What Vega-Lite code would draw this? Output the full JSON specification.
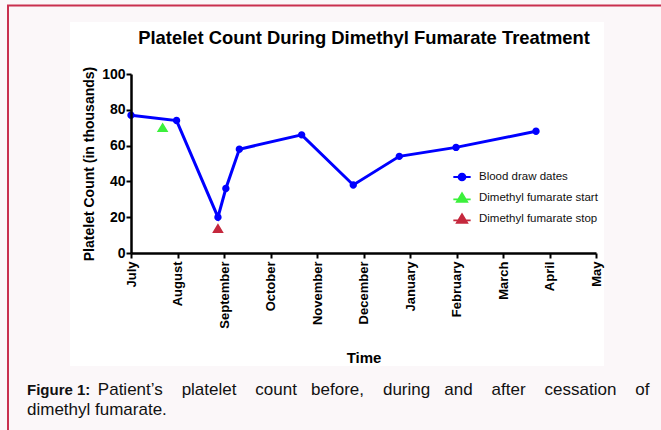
{
  "$schema": "https://vega.github.io/schema/vega-lite/v6.json",
  "width": 465,
  "height": 179,
  "autosize": {"type": "none"},
  "padding": {"left": 131, "top": 74, "right": 65, "bottom": 177},
  "background": "#fbf7f9",
  "title": {
    "text": "Figure 1:",
    "subtitle": [
      "\u200b\u00a0\u00a0\u00a0\u00a0\u00a0\u00a0\u00a0\u00a0\u00a0\u00a0\u00a0\u00a0\u00a0\u00a0\u00a0Patient’s\u00a0\u00a0\u00a0\u00a0platelet\u00a0\u00a0\u00a0\u00a0count\u00a0\u00a0\u00a0before,\u00a0\u00a0\u00a0\u00a0during\u00a0\u00a0\u00a0and\u00a0\u00a0\u00a0\u00a0after\u00a0\u00a0\u00a0\u00a0cessation\u00a0\u00a0\u00a0\u00a0of",
      "dimethyl fumarate."
    ],
    "orient": "bottom",
    "anchor": "start",
    "frame": "group",
    "offset": -38,
    "dx": -104,
    "baseline": "alphabetic",
    "font": "Liberation Sans",
    "fontSize": 15,
    "fontWeight": "bold",
    "color": "#111111",
    "subtitleFont": "Liberation Sans",
    "subtitleFontSize": 17,
    "subtitleFontWeight": "normal",
    "subtitleColor": "#111111",
    "subtitlePadding": -15,
    "subtitleLineHeight": 20
  },
  "datasets": {
    "draws": [
      {"month": 0.0, "count": 77, "series": "Blood draw dates"},
      {"month": 0.98, "count": 74, "series": "Blood draw dates"},
      {"month": 1.87, "count": 20, "series": "Blood draw dates"},
      {"month": 2.04, "count": 36, "series": "Blood draw dates"},
      {"month": 2.33, "count": 58, "series": "Blood draw dates"},
      {"month": 3.67, "count": 66, "series": "Blood draw dates"},
      {"month": 4.78, "count": 38, "series": "Blood draw dates"},
      {"month": 5.77, "count": 54, "series": "Blood draw dates"},
      {"month": 6.99, "count": 59, "series": "Blood draw dates"},
      {"month": 8.71, "count": 68, "series": "Blood draw dates"}
    ],
    "events": [
      {"month": 0.68, "count": 70, "series": "Dimethyl fumarate start"},
      {"month": 1.87, "count": 13.6, "series": "Dimethyl fumarate stop"}
    ]
  },
  "layer": [
    {
      "data": {"values": [{}]},
      "mark": {"type": "rect", "fill": "#ffffff"},
      "encoding": {
        "x": {"datum": -1.312, "type": "quantitative", "scale": {"domain": [0, 10]}, "axis": null},
        "x2": {"datum": 10.17},
        "y": {"datum": 129.05, "type": "quantitative", "scale": {"domain": [0, 100]}, "axis": null},
        "y2": {"datum": -63.1}
      }
    },
    {
      "data": {"values": [{}]},
      "mark": {"type": "rect", "fill": "transparent", "stroke": "#c9304f", "strokeWidth": 2},
      "encoding": {
        "x": {
          "datum": -2.645, "type": "quantitative", "scale": {"domain": [0, 10]},
          "axis": {
            "orient": "top", "domain": false, "ticks": false, "labels": false, "grid": false, "zindex": 2,
            "title": "Platelet Count During Dimethyl Fumarate Treatment",
            "titleFont": "Liberation Sans", "titleFontSize": 18.4, "titleFontWeight": "bold",
            "titleColor": "#000000", "titleY": -31, "titleBaseline": "alphabetic"
          }
        },
        "x2": {"datum": 14},
        "y": {"datum": 138.27, "type": "quantitative", "scale": {"domain": [0, 100]}, "axis": null},
        "y2": {"datum": -100}
      }
    },
    {
      "data": {"name": "draws"},
      "mark": {"type": "line", "color": "#0000ff", "strokeWidth": 3},
      "encoding": {
        "x": {
          "field": "month", "type": "quantitative", "scale": {"domain": [0, 10], "nice": false},
          "axis": {
            "orient": "bottom", "values": [0, 1, 2, 3, 4, 5, 6, 7, 8, 9, 10], "zindex": 2,
            "labelExpr": "['July','August','September','October','November','December','January','February','March','April','May'][datum.value]",
            "labelAngle": -90, "labelFlush": false, "labelOverlap": false,
            "labelFont": "Liberation Sans", "labelFontWeight": "bold", "labelFontSize": 13, "labelColor": "#000000", "labelPadding": 3,
            "tickSize": 5, "tickWidth": 2, "tickColor": "#000000",
            "domainColor": "#000000", "domainWidth": 2.5, "grid": false,
            "title": "Time", "titleFont": "Liberation Sans", "titleFontSize": 15, "titleFontWeight": "bold", "titleColor": "#000000",
            "titleY": 109, "titleBaseline": "alphabetic"
          }
        },
        "y": {
          "field": "count", "type": "quantitative", "scale": {"domain": [0, 100], "nice": false},
          "axis": {
            "orient": "left", "values": [0, 20, 40, 60, 80, 100], "labelFlush": false, "zindex": 2,
            "labelFont": "Liberation Sans", "labelFontWeight": "bold", "labelFontSize": 14, "labelColor": "#000000", "labelPadding": 1,
            "tickSize": 5, "tickWidth": 2, "tickColor": "#000000",
            "domainColor": "#000000", "domainWidth": 2.5, "grid": false,
            "title": "Platelet Count (in thousands)", "titleFont": "Liberation Sans", "titleFontSize": 14, "titleFontWeight": "bold", "titleColor": "#000000",
            "titleX": -38, "titleBaseline": "alphabetic"
          }
        }
      }
    },
    {
      "data": {"name": "draws"},
      "mark": {"type": "point", "filled": true, "opacity": 1, "size": 340},
      "encoding": {
        "x": {"field": "month", "type": "quantitative", "scale": {"domain": [0, 10]}, "axis": null},
        "y": {"field": "count", "type": "quantitative", "scale": {"domain": [0, 100]}, "axis": null},
        "color": {
          "field": "series", "type": "nominal",
          "scale": {"domain": ["Blood draw dates", "Dimethyl fumarate start", "Dimethyl fumarate stop"], "range": ["#0000ff", "#3cf03c", "#c5283d"]},
          "legend": {"title": null, "orient": "none", "legendX": 321, "legendY": 93, "symbolSize": 300, "symbolStrokeWidth": 1.8, "labelFont": "Liberation Sans", "labelFontSize": 11.5, "labelColor": "#111111", "labelOffset": 7, "rowPadding": 3, "padding": 0,
            "encoding": {"symbols": {"stroke": {"value": {"expr": "scale('color', datum.value)"}}, "strokeWidth": {"value": 1.8}}}}
        },
        "shape": {
          "field": "series", "type": "nominal",
          "scale": {"domain": ["Blood draw dates", "Dimethyl fumarate start", "Dimethyl fumarate stop"], "range": ["M-1,0L1,0M-0.4,0A0.4,0.4,0,1,1,0.4,0A0.4,0.4,0,1,1,-0.4,0Z", "M-1,0.15L1,0.15M0,-0.55L0.6,0.45L-0.6,0.45Z", "M-1,0.15L1,0.15M0,-0.55L0.6,0.45L-0.6,0.45Z"]},
          "legend": {"title": null, "orient": "none", "legendX": 321, "legendY": 93, "symbolSize": 300, "symbolStrokeWidth": 1.8, "labelFont": "Liberation Sans", "labelFontSize": 11.5, "labelColor": "#111111", "labelOffset": 7, "rowPadding": 3, "padding": 0,
            "encoding": {"symbols": {"stroke": {"value": {"expr": "scale('color', datum.value)"}}, "strokeWidth": {"value": 1.8}}}}
        }
      }
    },
    {
      "data": {"name": "events"},
      "mark": {"type": "point", "filled": true, "opacity": 1, "size": 374},
      "encoding": {
        "x": {"field": "month", "type": "quantitative", "scale": {"domain": [0, 10]}, "axis": null},
        "y": {"field": "count", "type": "quantitative", "scale": {"domain": [0, 100]}, "axis": null},
        "color": {
          "field": "series", "type": "nominal",
          "scale": {"domain": ["Blood draw dates", "Dimethyl fumarate start", "Dimethyl fumarate stop"], "range": ["#0000ff", "#3cf03c", "#c5283d"]},
          "legend": {"title": null, "orient": "none", "legendX": 321, "legendY": 93, "symbolSize": 300, "symbolStrokeWidth": 1.8, "labelFont": "Liberation Sans", "labelFontSize": 11.5, "labelColor": "#111111", "labelOffset": 7, "rowPadding": 3, "padding": 0,
            "encoding": {"symbols": {"stroke": {"value": {"expr": "scale('color', datum.value)"}}, "strokeWidth": {"value": 1.8}}}}
        },
        "shape": {
          "field": "series", "type": "nominal",
          "scale": {"domain": ["Blood draw dates", "Dimethyl fumarate start", "Dimethyl fumarate stop"], "range": ["M-1,0L1,0M-0.4,0A0.4,0.4,0,1,1,0.4,0A0.4,0.4,0,1,1,-0.4,0Z", "M-1,0.15L1,0.15M0,-0.55L0.6,0.45L-0.6,0.45Z", "M-1,0.15L1,0.15M0,-0.55L0.6,0.45L-0.6,0.45Z"]},
          "legend": {"title": null, "orient": "none", "legendX": 321, "legendY": 93, "symbolSize": 300, "symbolStrokeWidth": 1.8, "labelFont": "Liberation Sans", "labelFontSize": 11.5, "labelColor": "#111111", "labelOffset": 7, "rowPadding": 3, "padding": 0,
            "encoding": {"symbols": {"stroke": {"value": {"expr": "scale('color', datum.value)"}}, "strokeWidth": {"value": 1.8}}}}
        }
      }
    }
  ],
  "resolve": {"axis": {"x": "independent", "y": "independent"}},
  "config": {"view": {"stroke": null}, "font": "Liberation Sans"}
}
